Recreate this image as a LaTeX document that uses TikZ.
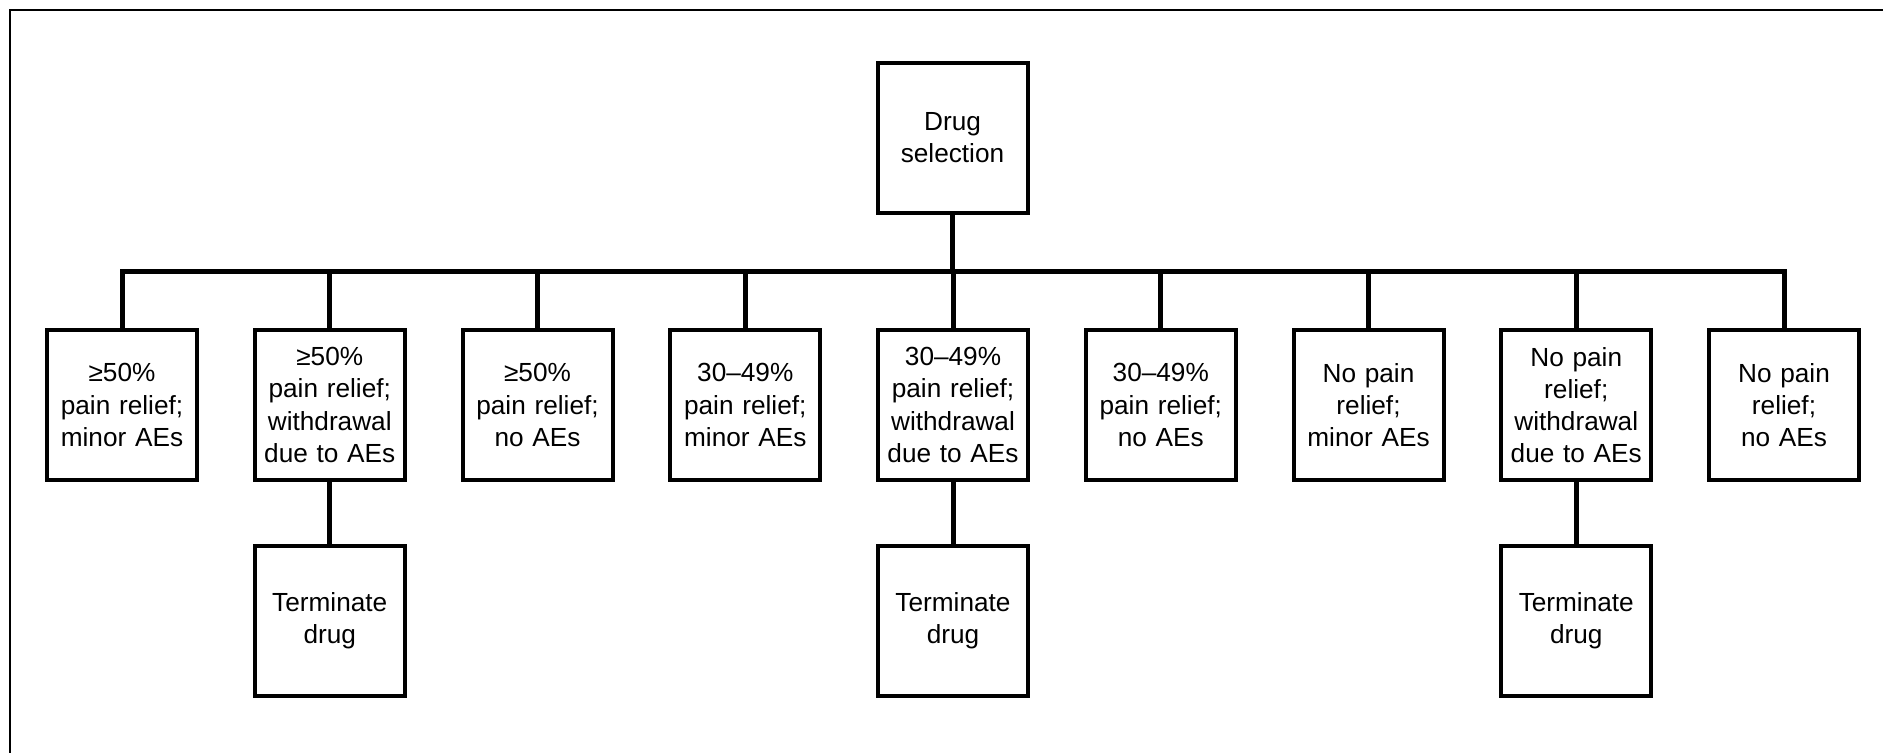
\documentclass[tikz,border=0pt]{standalone}
\usepackage{fontspec}
\setmainfont{Liberation Sans}
\begin{document}
\begin{tikzpicture}[x=0.5pt,y=-0.5pt,
  box/.style={draw,line width=2pt,minimum width=75pt,minimum height=75pt,inner sep=0pt,
    align=center,font=\fontsize{13.1pt}{16.1pt}\selectfont,text width=74pt},
  conn/.style={line width=2.5pt}]
\useasboundingbox (0,0) rectangle (1883,753);
\draw[line width=1pt] (10,753) -- (10,10) -- (1883,10);
\node[box] (top) at (952.5,138) {Drug\\selection};
\coordinate (j) at (952.5,272);
\node[box] (b1) at (122,405) {≥50\%\\pain relief;\\minor AEs};
\node[box] (b2) at (329.75,405) {≥50\%\\pain relief;\\withdrawal\\due to AEs};
\node[box] (b3) at (537.5,405) {≥50\%\\pain relief;\\no AEs};
\node[box] (b4) at (745.25,405) {30–49\%\\pain relief;\\minor AEs};
\node[box] (b5) at (953,405) {30–49\%\\pain relief;\\withdrawal\\due to AEs};
\node[box] (b6) at (1160.75,405) {30–49\%\\pain relief;\\no AEs};
\node[box] (b7) at (1368.5,405) {No pain\\relief;\\minor AEs};
\node[box] (b8) at (1576.25,405) {No pain\\relief;\\withdrawal\\due to AEs};
\node[box] (b9) at (1784,405) {No pain\\relief;\\no AEs};
\node[box] (t2) at (329.75,621) {Terminate\\drug};
\node[box] (t5) at (953,621) {Terminate\\drug};
\node[box] (t8) at (1576.25,621) {Terminate\\drug};
\draw[conn] (top.south) -- (j);
\draw[conn] (b1.north) -- (b1.north |- j) -- (b9.north |- j) -- (b9.north);
\foreach \i in {2,...,8} \draw[conn] (b\i.north) -- (b\i.north |- j);
\draw[conn] (b2.south) -- (t2.north);
\draw[conn] (b5.south) -- (t5.north);
\draw[conn] (b8.south) -- (t8.north);
\end{tikzpicture}
\end{document}
